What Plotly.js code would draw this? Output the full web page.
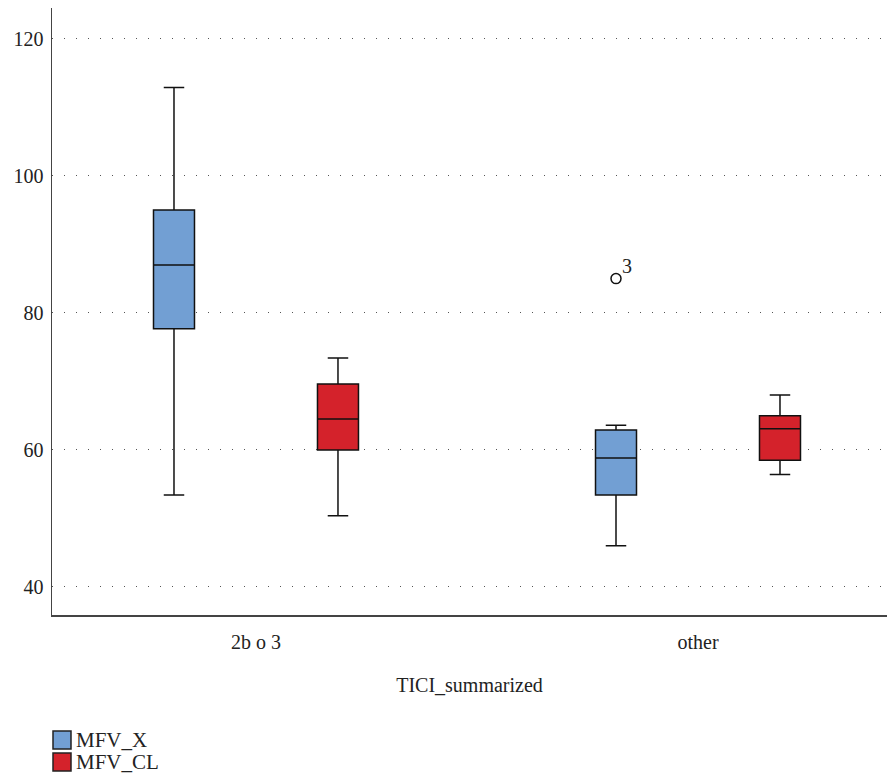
<!DOCTYPE html>
<html>
<head>
<meta charset="utf-8">
<script src="https://cdn.plot.ly/plotly-3.0.1.min.js"></script>
<style>html,body{margin:0;padding:0;background:#fff;}#chart{width:887px;height:775px;}</style>
</head>
<body>
<div id="chart"></div>
<script>
const categories = ["2b o 3", "other"];
const seriesNames = ["MFV_X", "MFV_CL"];
const seriesColors = ["#729fd3", "#d4222b"];
// MFV_X
const xLower = [53.4, 46.0];
const xQ1 = [77.7, 53.4];
const xMedian = [87.0, 58.8];
const xQ3 = [95.0, 62.9];
const xUpper = [112.9, 63.6];
const xOutliers = [null, 85.0];
const xOutlierLabels = [null, "3"];
// MFV_CL
const clLower = [50.4, 56.4];
const clQ1 = [60.0, 58.5];
const clMedian = [64.5, 63.1];
const clQ3 = [69.6, 65.0];
const clUpper = [73.4, 68.0];
const clOutliers = [null, null];

const FONT = "Liberation Serif, Times New Roman, serif";
const TXT = "#222";

function boxTrace(name, lo, q1, med, q3, up, color, grp) {
  return {
    type: "box", name: name, x: categories,
    q1: q1, median: med, q3: q3, lowerfence: lo, upperfence: up,
    boxpoints: false, offsetgroup: grp, showlegend: false,
    fillcolor: color, line: {color: "#111", width: 1.5},
    whiskerwidth: 0.5, hoverinfo: "skip"
  };
}
function outlierTrace(name, vals, grp) {
  return {
    type: "scatter", mode: "markers", name: name + " outliers", x: categories, y: vals,
    offsetgroup: grp, showlegend: false, hoverinfo: "skip",
    marker: {symbol: "circle-open", color: "#111", size: 10, line: {width: 1.5, color: "#111"}}
  };
}

const traces = [
  boxTrace(seriesNames[0], xLower, xQ1, xMedian, xQ3, xUpper, seriesColors[0], "a"),
  boxTrace(seriesNames[1], clLower, clQ1, clMedian, clQ3, clUpper, seriesColors[1], "b"),
  outlierTrace(seriesNames[0], xOutliers, "a"),
  outlierTrace(seriesNames[1], clOutliers, "b")
];

// layout geometry (pixels)
const W = 887, H = 775, M = {l: 52, r: 0, t: 8, b: 160};
const plotH = H - M.t - M.b, plotW = W - M.l - M.r;
const py = p => (H - M.b - p) / plotH;   // pixel y -> paper y
const px = p => (p - M.l) / plotW;       // pixel x -> paper x

const annotations = [];
categories.forEach((c, i) => {
  if (xOutlierLabels[i] !== null && xOutliers[i] !== null) {
    annotations.push({x: c, y: xOutliers[i], xref: "x", yref: "y", text: xOutlierLabels[i],
      showarrow: false, xshift: -71, yshift: 13, font: {family: FONT, size: 20, color: TXT}});
  }
});

// custom legend (square swatches with labels right beside them)
const shapes = [];
seriesNames.forEach((n, i) => {
  const top = 731 + i * 22;
  shapes.push({type: "rect", xref: "paper", yref: "paper",
    x0: px(53), x1: px(71), y0: py(top + 18), y1: py(top),
    fillcolor: seriesColors[i], line: {color: "#222", width: 1.5}});
  annotations.push({xref: "paper", yref: "paper", x: px(74), y: py(top + 9),
    xanchor: "left", yanchor: "middle", showarrow: false, text: n,
    font: {family: FONT, size: 21, color: TXT}});
});

const layout = {
  width: W, height: H, margin: M,
  paper_bgcolor: "#fff", plot_bgcolor: "#fff",
  font: {family: FONT, size: 20, color: TXT},
  boxmode: "group", boxgap: 0.258, boxgroupgap: 0.75,
  scattermode: "group", scattergap: 0.258,
  showlegend: false,
  xaxis: {
    type: "category", categoryarray: categories, categoryorder: "array",
    range: [-0.4615, 1.4276],
    showline: true, linecolor: "#444", linewidth: 1.5,
    showgrid: false, zeroline: false, ticks: "", ticklabelstandoff: 8,
    tickfont: {family: FONT, size: 20, color: TXT},
    title: {text: "TICI_summarized", font: {family: FONT, size: 20, color: TXT}, standoff: 26}
  },
  yaxis: {
    range: [35.9, 124.5], tickvals: [40, 60, 80, 100, 120],
    showline: true, linecolor: "#444", linewidth: 1.5,
    showgrid: true, gridcolor: "#555", gridwidth: 1, griddash: "1px,11px",
    zeroline: false, ticks: "", ticklabelstandoff: 3,
    tickfont: {family: FONT, size: 20, color: TXT}
  },
  shapes: shapes,
  annotations: annotations
};

Plotly.newPlot("chart", traces, layout, {displayModeBar: false, staticPlot: true});
</script>
</body>
</html>
